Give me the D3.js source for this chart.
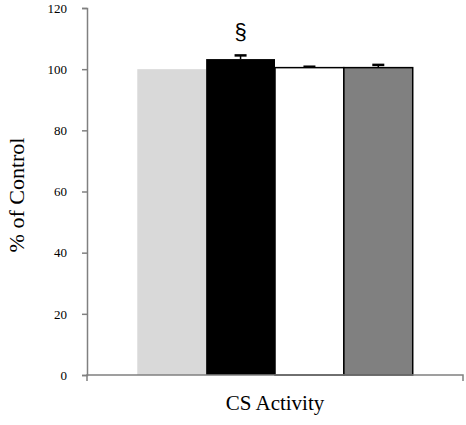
<!DOCTYPE html>
<html>
<head>
<meta charset="utf-8">
<script src="https://cdn.jsdelivr.net/npm/d3@7"></script>
<style>
  body { margin: 0; background: #fff; }
</style>
</head>
<body>
<script>
// chart data
const groups = ['A', 'B', 'C', 'D'];
const values = [100, 103.3, 100.5, 100.5];
const errors = [0, 1.2, 0.3, 0.9];
const fills = ['#d9d9d9', '#000000', '#ffffff', '#808080'];
const strokes = ['none', 'none', '#000000', '#000000'];
const marks = ['', '§', '', ''];
const yTicks = [0, 20, 40, 60, 80, 100, 120];

const width = 466;
const height = 425;
const margin = { top: 8, right: 3, bottom: 50, left: 87 };

const svg = d3.select('body').append('svg')
  .attr('width', width)
  .attr('height', height);

const x = d3.scaleBand()
  .domain(groups)
  .range([margin.left, width - margin.right])
  .paddingInner(0)
  .paddingOuter(0.73);

const y = d3.scaleLinear()
  .domain([0, 120])
  .range([height - margin.bottom, margin.top]);

// bars
svg.selectAll('rect.bar')
  .data(groups)
  .enter().append('rect')
  .attr('class', 'bar')
  .attr('x', d => x(d))
  .attr('width', x.bandwidth())
  .attr('y', (d, i) => y(values[i]))
  .attr('height', (d, i) => y(0) - y(values[i]))
  .attr('fill', (d, i) => fills[i])
  .attr('stroke', (d, i) => strokes[i])
  .attr('stroke-width', 1.5);

// error bars (upper only)
const err = svg.selectAll('g.err')
  .data(groups.filter((d, i) => errors[i] > 0))
  .enter().append('g');

err.append('line')
  .attr('x1', d => x(d) + x.bandwidth() / 2)
  .attr('x2', d => x(d) + x.bandwidth() / 2)
  .attr('y1', d => y(values[groups.indexOf(d)]))
  .attr('y2', d => y(values[groups.indexOf(d)] + errors[groups.indexOf(d)]))
  .attr('stroke', '#000')
  .attr('stroke-width', 1.5);

err.append('line')
  .attr('x1', d => x(d) + x.bandwidth() / 2 - 6)
  .attr('x2', d => x(d) + x.bandwidth() / 2 + 6)
  .attr('y1', d => y(values[groups.indexOf(d)] + errors[groups.indexOf(d)]))
  .attr('y2', d => y(values[groups.indexOf(d)] + errors[groups.indexOf(d)]))
  .attr('stroke', '#000')
  .attr('stroke-width', 2.5);

// significance marks
svg.selectAll('text.mark')
  .data(groups)
  .enter().append('text')
  .attr('class', 'mark')
  .attr('x', d => x(d) + x.bandwidth() / 2)
  .attr('y', (d, i) => y(values[i] + errors[i]) - 16)
  .attr('text-anchor', 'middle')
  .style('font-family', 'Arial, "Liberation Sans", sans-serif')
  .style('font-size', '22px')
  .text((d, i) => marks[i]);

// y axis
const yAxis = svg.append('g')
  .attr('transform', `translate(${margin.left},0)`)
  .call(d3.axisLeft(y).tickValues(yTicks).tickSize(5).tickPadding(15));

yAxis.select('.domain').attr('stroke', '#808080').attr('stroke-width', 1.5);
yAxis.selectAll('.tick line').attr('stroke', '#808080').attr('stroke-width', 1.5);
yAxis.selectAll('.tick text')
  .style('font-family', '"Times New Roman", "Liberation Serif", serif')
  .style('font-size', '13px')
  .attr('fill', '#000');

// x axis line with end ticks
const x0 = margin.left;
const x1 = width - margin.right;
svg.append('path')
  .attr('d', `M${x0},${y(0) + 6}V${y(0)}H${x1}V${y(0) + 6}`)
  .attr('fill', 'none')
  .attr('stroke', '#808080')
  .attr('stroke-width', 1.5);

// axis titles
svg.append('text')
  .attr('transform', `translate(24,195) rotate(-90)`)
  .attr('text-anchor', 'middle')
  .style('font-family', '"Times New Roman", "Liberation Serif", serif')
  .style('font-size', '22px')
  .text('% of Control');

svg.append('text')
  .attr('x', (x0 + x1) / 2)
  .attr('y', 410)
  .attr('text-anchor', 'middle')
  .style('font-family', '"Times New Roman", "Liberation Serif", serif')
  .style('font-size', '21px')
  .text('CS Activity');
</script>
</body>
</html>
